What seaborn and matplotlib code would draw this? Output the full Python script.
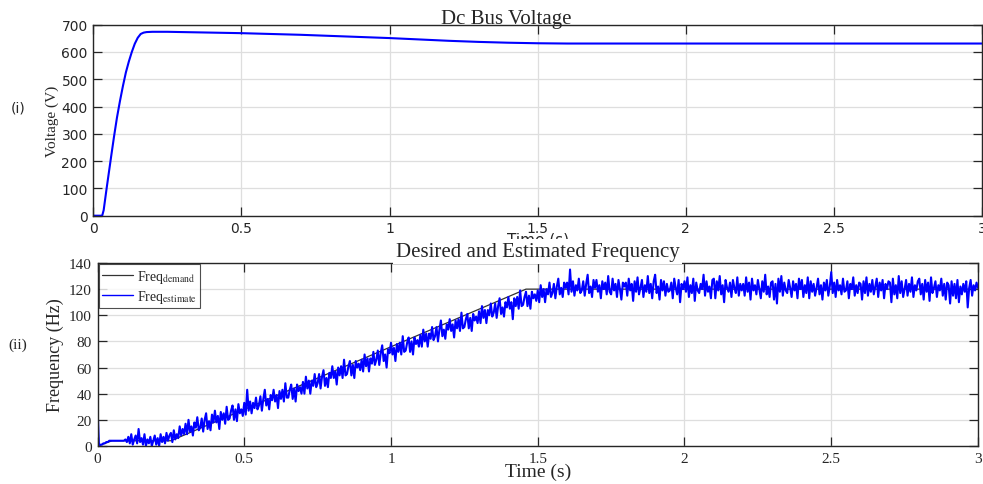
import numpy as np
import pandas as pd
import matplotlib
matplotlib.use('Agg')
import matplotlib.pyplot as plt
import seaborn as sns

# DC bus voltage
volt_time = [0, 0.03, 0.035, 0.045, 0.06, 0.07, 0.08, 0.09, 0.10, 0.11, 0.12, 0.13,
             0.14, 0.15, 0.16, 0.17, 0.18, 0.2, 0.25, 0.3, 0.4, 0.5, 0.6, 0.7, 0.8,
             0.9, 1.0, 1.1, 1.2, 1.3, 1.4, 1.5, 1.6, 1.8, 2.0, 2.5, 3.0]
volt_vals = [0, 0, 20, 100, 215, 290, 360, 420, 475, 525, 565, 600,
             630, 652, 666, 671, 673, 674, 674, 673, 671, 669, 666, 663, 659,
             655, 651, 646, 641, 637, 634, 632, 631, 631, 631, 631, 631]

# frequency demand
dem_time = [0, 0.05, 0.25, 1.46, 3.0]
dem_vals = [0, 4, 4, 120, 120]

# estimated frequency, one value every 5 ms from 0 to 3 s (one row = 50 ms)
est_vals = [
    30, 0, 1, 1, 2, 2, 3, 3, 4, 4,
    4, 4, 4, 4, 4, 4, 4, 4, 4, 5,
    3, 7, 2, 9, 1, 5, 8, 2, 13, 3,
    6, 1, 9, 0, 5, 2, 7, 0, 4, 8,
    1, 6, 0, 9, 3, 7, 2, 10, 4, 8,
    10, 3, 12, 5, 9, 6, 15, 8, 13, 9,
    17, 9, 20, 11, 15, 8, 18, 14, 22, 12,
    14, 21, 11, 20, 25, 13, 19, 12, 24, 18,
    27, 18, 23, 13, 26, 20, 25, 17, 30, 20,
    21, 27, 31, 20, 28, 19, 32, 25, 28, 23,
    33, 24, 43, 27, 34, 25, 33, 29, 37, 28,
    31, 38, 27, 36, 43, 31, 36, 28, 39, 35,
    43, 34, 39, 29, 42, 36, 43, 34, 48, 37,
    37, 43, 47, 36, 44, 34, 47, 42, 45, 40,
    49, 40, 53, 44, 50, 40, 50, 46, 55, 45,
    48, 55, 44, 53, 58, 46, 52, 45, 56, 52,
    61, 52, 57, 47, 60, 54, 61, 52, 66, 54,
    55, 61, 65, 54, 62, 52, 65, 60, 63, 58,
    66, 57, 70, 61, 67, 57, 67, 63, 72, 62,
    66, 73, 62, 71, 77, 65, 70, 60, 74, 71,
    79, 70, 75, 65, 78, 72, 79, 70, 84, 72,
    73, 79, 83, 72, 80, 70, 83, 78, 81, 76,
    85, 76, 89, 80, 86, 76, 86, 82, 91, 81,
    84, 91, 80, 89, 96, 84, 89, 82, 93, 89,
    97, 88, 93, 83, 96, 90, 97, 88, 102, 90,
    91, 97, 101, 90, 98, 88, 101, 96, 99, 94,
    103, 94, 107, 98, 104, 94, 104, 100, 109, 99,
    102, 109, 98, 107, 113, 101, 106, 99, 110, 106,
    114, 105, 110, 97, 113, 107, 114, 105, 119, 107,
    108, 114, 118, 107, 115, 105, 118, 113, 116, 111,
    119, 110, 123, 114, 120, 110, 120, 116, 125, 114,
    117, 124, 113, 122, 128, 116, 121, 114, 125, 121,
    125, 116, 135, 118, 126, 115, 123, 119, 128, 117,
    119, 126, 115, 124, 131, 117, 122, 114, 127, 121,
    127, 118, 123, 113, 126, 120, 125, 116, 130, 118,
    116, 128, 119, 124, 114, 127, 120, 112, 125, 122,
    125, 115, 128, 119, 124, 111, 126, 118, 129, 116,
    121, 127, 114, 123, 118, 130, 117, 124, 113, 126,
    131, 117, 122, 112, 127, 119, 126, 115, 124, 118,
    119, 125, 113, 128, 121, 116, 127, 110, 124, 120,
    126, 118, 129, 114, 123, 117, 128, 111, 125, 119,
    117, 124, 120, 131, 115, 126, 118, 122, 113, 127,
    128, 113, 126, 119, 130, 116, 123, 110, 127, 121,
    118, 125, 114, 127, 121, 117, 129, 115, 124, 119,
    124, 115, 129, 118, 125, 112, 128, 119, 123, 116,
    127, 120, 113, 126, 118, 131, 116, 122, 114, 125,
    126, 112, 124, 109, 128, 118, 130, 115, 125, 119,
    117, 127, 121, 114, 126, 119, 124, 113, 128, 120,
    127, 114, 123, 117, 129, 113, 126, 118, 124, 115,
    121, 128, 116, 123, 112, 125, 119, 127, 115, 122,
    133, 117, 125, 114, 127, 119, 123, 116, 128, 118,
    119, 126, 113, 124, 120, 129, 115, 123, 117, 125,
    124, 112, 126, 117, 129, 115, 124, 118, 127, 116,
    122, 128, 114, 125, 119, 127, 113, 124, 120, 126,
    125, 110, 128, 116, 123, 113, 130, 117, 126, 114,
    120, 127, 115, 124, 118, 129, 114, 123, 119, 126,
    128, 116, 124, 112, 127, 118, 125, 111, 129, 117,
    121, 126, 114, 123, 119, 128, 115, 124, 112, 125,
    123, 109, 126, 115, 124, 113, 127, 110, 122, 116,
    124, 118, 126, 106, 121, 127, 115, 123, 119, 125,
    121,
]
est_time = np.linspace(0, 3, len(est_vals))

xticks = [0, 0.5, 1, 1.5, 2, 2.5, 3]
xtick_labels = ['0', '0.5', '1', '1.5', '2', '2.5', '3']

sns.set_theme(style='ticks')
plt.rcParams['mathtext.fontset'] = 'stix'

fig = plt.figure(figsize=(9.83, 4.85), dpi=100)
ax1 = fig.add_axes([0.0949, 0.5532, 0.9041, 0.3938])
ax2 = fig.add_axes([0.0992, 0.0784, 0.8957, 0.3773])

serif = 'Liberation Serif'
sans = 'DejaVu Sans'

# 1. Dc bus voltage
sns.lineplot(x=volt_time, y=volt_vals, ax=ax1, color='#0000ff', linewidth=1.5, sort=False)
ax1.set_xlim(0, 3)
ax1.set_ylim(0, 700)
ax1.set_xticks(xticks)
ax1.set_xticklabels(xtick_labels, family=sans, fontsize=10)
ax1.set_yticks(range(0, 701, 100))
ax1.set_yticklabels([str(v) for v in range(0, 701, 100)], family=sans, fontsize=10)
ax1.set_title('Dc Bus Voltage', family=serif, fontsize=15, pad=1, x=0.4645)
ax1.set_xlabel('Time (s)', family=sans, fontsize=11)
ax1.xaxis.set_label_coords(0.5, -0.082)
ax1.set_ylabel('Voltage (V)', family=serif, fontsize=11, labelpad=2)
fig.text(18 / 983, 1 - 109 / 485, '(i)', family=sans, fontsize=10, ha='center', va='center')

# 2. Desired and estimated frequency
sns.lineplot(x=dem_time, y=dem_vals, ax=ax2, color='#333333', linewidth=0.9,
             sort=False, label=r'Freq$_{\mathrm{demand}}$')
sns.lineplot(x=est_time, y=est_vals, ax=ax2, color='#0000ff', linewidth=1.5,
             sort=False, label=r'Freq$_{\mathrm{estimate}}$')
ax2.set_xlim(0, 3)
ax2.set_ylim(0, 140)
ax2.set_xticks(xticks)
ax2.set_xticklabels(xtick_labels, family=serif, fontsize=11)
ax2.set_yticks(range(0, 141, 20))
ax2.set_yticklabels([str(v) for v in range(0, 141, 20)], family=serif, fontsize=11)
ax2.set_title('Desired and Estimated Frequency', family=serif, fontsize=15, pad=5,
              bbox=dict(facecolor='white', edgecolor='none', pad=2))
ax2.set_xlabel('Time (s)', family=serif, fontsize=14, labelpad=-1)
ax2.set_ylabel('Frequency (Hz)', family=serif, fontsize=13, labelpad=4)
fig.text(18 / 983, 1 - 345 / 485, '(ii)', family=serif, fontsize=11, ha='center', va='center')

leg = ax2.legend(loc='upper left', prop={'family': serif, 'size': 10}, frameon=True,
                 fancybox=False, borderaxespad=0.1, handlelength=2.2, handletextpad=0.3,
                 borderpad=0.25, labelspacing=0.2)
leg.get_frame().set_edgecolor('#222222')
leg.get_frame().set_linewidth(0.8)
leg.get_lines()[1].set_linewidth(1.0)

for ax in (ax1, ax2):
    ax.grid(True, color='#dedede', linewidth=0.9)
    ax.set_axisbelow(True)
    ax.tick_params(direction='in', length=6.5, width=0.9, top=True, right=True,
                   colors='#262626', pad=4)
    for sp in ax.spines.values():
        sp.set_visible(True)
        sp.set_color('#262626')
        sp.set_linewidth(1.0)

fig.savefig('out.png', dpi=100)
